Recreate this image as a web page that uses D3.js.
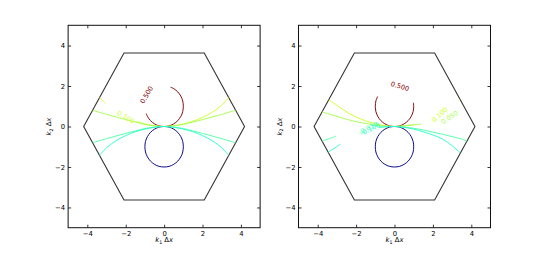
<!DOCTYPE html>
<html>
<head>
<meta charset="utf-8">
<script src="https://cdn.jsdelivr.net/npm/d3@7"></script>
<style>
  body { margin: 0; background: #fff; }
  svg { display: block; }
  text { font-family: "DejaVu Sans", sans-serif; }
</style>
</head>
<body>
<svg id="chart" width="545" height="253"></svg>
<script>
// Contour levels and axis ticks
const levels = [-0.5, -0.1, -0.05, 0.05, 0.1, 0.5];
const xTicks = [-4, -2, 0, 2, 4];
const yTicks = [-4, -2, 0, 2, 4];
const domain = [-5, 5];

// Brillouin-zone hexagon (k1, k2)
const hexagon = [[4.19, 0], [2.09, 3.63], [-2.09, 3.63], [-4.19, 0], [-2.09, -3.63], [2.09, -3.63]];

// Circle at level -0.5 (same in both panels)
const blueCircle = [[0, 0], [0.26, -0.03], [0.5, -0.13], [0.71, -0.29], [0.87, -0.5], [0.97, -0.74], [1, -1],
    [0.97, -1.26], [0.87, -1.5], [0.71, -1.71], [0.5, -1.87], [0.26, -1.97], [0, -2], [-0.26, -1.97],
    [-0.5, -1.87], [-0.71, -1.71], [-0.87, -1.5], [-0.97, -1.26], [-1, -1], [-0.97, -0.74], [-0.87, -0.5],
    [-0.71, -0.29], [-0.5, -0.13], [-0.26, -0.03]];

// Left panel contour pieces
const leftContours = [
    { level: 0.5, points: [[0.34, 1.94], [0.5, 1.87], [0.71, 1.71], [0.87, 1.5], [0.97, 1.26], [1, 1], [0.97, 0.74],
        [0.87, 0.5], [0.71, 0.29], [0.5, 0.13], [0.26, 0.03], [0, 0], [-0.26, 0.03], [-0.5, 0.13], [-0.71, 0.29],
        [-0.87, 0.5], [-0.93, 0.64]] },
    { level: -0.5, closed: true, points: blueCircle },
    { level: 0.1, points: [[-3.36, 1.43], [-3.2, 1.28], [-3.06, 1.15]] },
    { level: 0.1, points: [[-1.5, 0.26], [-1, 0.13], [-0.5, 0.04], [0, 0], [0.5, 0.04], [1, 0.13], [1.5, 0.26],
        [2, 0.45], [2.5, 0.7], [3, 1.05], [3.36, 1.43]] },
    { level: 0.05, points: [[-3.72, 0.8], [-3, 0.6], [-2.5, 0.47], [-2, 0.34], [-1.5, 0.22], [-1, 0.1], [-0.5, 0.03],
        [0, 0], [0.5, 0.03], [1, 0.1], [1.5, 0.22], [2, 0.34], [2.5, 0.47], [3, 0.6], [3.72, 0.8]] },
    { level: -0.05, points: [[-3.72, -0.8], [-3, -0.6], [-2.5, -0.47], [-2, -0.34], [-1.5, -0.22], [-1, -0.1], [-0.5, -0.03],
        [0, 0], [0.5, -0.03], [1, -0.1], [1.5, -0.22], [2, -0.34], [2.5, -0.47], [3, -0.6], [3.72, -0.8]] },
    { level: -0.1, points: [[-3.36, -1.43], [-3, -1.05], [-2.5, -0.7], [-2, -0.45], [-1.5, -0.26], [-1, -0.13], [-0.5, -0.04],
        [0, 0], [0.5, -0.04], [1, -0.13], [1.5, -0.26], [2, -0.45], [2.5, -0.7], [3, -1.05], [3.36, -1.43]] }
];

// Right panel contour pieces
const rightContours = [
    { level: 0.5, points: [[0.98, 1.17], [1, 1], [0.97, 0.74], [0.87, 0.5], [0.71, 0.29], [0.5, 0.13], [0.26, 0.03],
        [0, 0], [-0.26, 0.03], [-0.5, 0.13], [-0.71, 0.29], [-0.87, 0.5], [-0.97, 0.74], [-1, 1], [-0.97, 1.26],
        [-0.88, 1.48]] },
    { level: -0.5, closed: true, points: blueCircle },
    { level: 0.1, points: [[-3.43, 1.31], [-3, 1.05], [-2.43, 0.68], [-1.9, 0.43], [-1.5, 0.28], [-1, 0.14], [-0.5, 0.04],
        [0, 0], [0.5, 0.03], [1, 0.1]] },
    { level: 0.1, points: [[3.4, 1.33], [3.34, 1.29]] },
    { level: 0.05, points: [[-3.78, 0.72], [-3, 0.5], [-2.43, 0.34], [-1.8, 0.2], [-1.22, 0.11], [-0.6, 0.03],
        [0, 0], [0.5, 0.03], [1, 0.08], [1.4, 0.12]] },
    { level: -0.05, points: [[-3.78, -0.72], [-3.4, -0.6], [-3.04, -0.47]] },
    { level: -0.05, points: [[-0.8, -0.03], [-0.4, -0.01], [0, 0], [0.5, -0.03], [1, -0.09], [1.5, -0.17], [2, -0.28],
        [2.5, -0.38], [3, -0.5], [3.5, -0.62], [3.78, -0.72]] },
    { level: -0.1, points: [[-3.45, -1.27], [-3.1, -1.05], [-2.81, -0.87]] },
    { level: -0.1, points: [[-0.8, -0.04], [-0.4, -0.01], [0, 0], [0.5, -0.04], [1, -0.13], [1.5, -0.26], [2, -0.42],
        [2.5, -0.62], [3, -0.95], [3.43, -1.31]] }
];

// Inline contour labels
const leftLabels = [
    { text: "0.500", level: 0.5, k: [-0.9, 1.56], angle: -60 },
    { text: "0.100", level: 0.1, k: [-2.0, 0.45], angle: 31 }
];
const rightLabels = [
    { text: "0.500", level: 0.5, k: [0.28, 1.97], angle: 17 },
    { text: "0.100", level: 0.1, k: [2.36, 0.57], angle: -42 },
    { text: "0.050", level: 0.05, k: [2.88, 0.44], angle: -33 },
    { text: "-0.050", level: -0.05, k: [-1.36, -0.09], angle: -27 },
    { text: "-0.100", level: -0.1, k: [-1.27, -0.14], angle: -27 }
];

// matplotlib "jet" colormap, built from its segment data
const jetR = d3.scaleLinear().domain([0, 0.35, 0.66, 0.89, 1]).range([0, 0, 1, 1, 0.5]).clamp(true);
const jetG = d3.scaleLinear().domain([0, 0.125, 0.375, 0.64, 0.91, 1]).range([0, 0, 1, 1, 0, 0]).clamp(true);
const jetB = d3.scaleLinear().domain([0, 0.11, 0.34, 0.65, 1]).range([0.5, 1, 1, 0, 0]).clamp(true);
const norm = d3.scaleLinear().domain(d3.extent(levels)).range([0, 1]);
const levelColor = v => {
    const t = norm(v);
    return d3.rgb(jetR(t) * 255, jetG(t) * 255, jetB(t) * 255).formatHex();
};

const svg = d3.select('#chart');
const fontSize = 6.8;

// Figure layout (matplotlib subplot params)
const figW = 545, figH = 253;
const axLeft = 0.125 * figW, axRight = 0.9 * figW;
const axW = (axRight - axLeft) / 2.2;
const axTop = 0.1 * figH, axBottom = 0.9 * figH;

function drawPanel(x0, contours, labels) {
    const x = d3.scaleLinear().domain(domain).range([x0, x0 + axW]);
    const y = d3.scaleLinear().domain(domain).range([axBottom, axTop]);
    const g = svg.append('g');

    const line = d3.line().x(d => x(d[0])).y(d => y(d[1]));

    // hexagon
    g.append('path')
        .attr('d', line.curve(d3.curveLinearClosed)(hexagon))
        .attr('fill', 'none')
        .attr('stroke', '#333')
        .attr('stroke-width', 1.1);

    // contour lines
    g.selectAll('path.contour')
        .data(contours)
        .join('path')
        .attr('class', 'contour')
        .attr('d', d => line.curve(d.closed ? d3.curveCatmullRomClosed : d3.curveCatmullRom)(d.points))
        .attr('fill', 'none')
        .attr('stroke', d => levelColor(d.level))
        .attr('stroke-width', 0.95);

    // contour labels
    g.selectAll('text.clabel')
        .data(labels)
        .join('text')
        .attr('class', 'clabel')
        .attr('transform', d => `translate(${x(d.k[0])},${y(d.k[1])}) rotate(${d.angle})`)
        .attr('text-anchor', 'middle')
        .attr('dominant-baseline', 'central')
        .attr('font-size', 6.6)
        .attr('fill', d => levelColor(d.level))
        .text(d => d.text);

    // axes: ticks point inward on all four sides
    const styleAxis = sel => {
        sel.select('.domain').remove();
        sel.selectAll('.tick line').attr('stroke', '#000').attr('stroke-width', 0.8);
        sel.selectAll('.tick text').attr('font-size', fontSize).attr('fill', '#000')
            .attr('font-family', '"DejaVu Sans", sans-serif');
    };
    g.append('g').attr('transform', `translate(0,${axBottom})`)
        .call(d3.axisBottom(x).tickValues(xTicks).tickSize(-3).tickPadding(3)).call(styleAxis);
    g.append('g').attr('transform', `translate(0,${axTop})`)
        .call(d3.axisTop(x).tickValues(xTicks).tickSize(-3).tickFormat('')).call(styleAxis);
    g.append('g').attr('transform', `translate(${x0},0)`)
        .call(d3.axisLeft(y).tickValues(yTicks).tickSize(-3).tickPadding(3)).call(styleAxis);
    g.append('g').attr('transform', `translate(${x0 + axW},0)`)
        .call(d3.axisRight(y).tickValues(yTicks).tickSize(-3).tickFormat('')).call(styleAxis);

    // frame
    g.append('rect')
        .attr('x', x0).attr('y', axTop)
        .attr('width', axW).attr('height', axBottom - axTop)
        .attr('fill', 'none')
        .attr('stroke', '#111')
        .attr('stroke-width', 1);

    // axis labels (k1 Δx, k2 Δx)
    const xl = g.append('text')
        .attr('x', x0 + axW / 2).attr('y', axBottom + 14.5)
        .attr('text-anchor', 'middle')
        .attr('font-size', fontSize);
    xl.append('tspan').attr('font-style', 'italic').text('k');
    xl.append('tspan').attr('font-size', fontSize * 0.7).attr('dy', 1.5).text('1');
    xl.append('tspan').attr('dy', -1.5).text(' Δ');
    xl.append('tspan').attr('font-style', 'italic').text('x');

    const yl = g.append('text')
        .attr('transform', `translate(${x0 - 17},${(axTop + axBottom) / 2}) rotate(-90)`)
        .attr('text-anchor', 'middle')
        .attr('font-size', fontSize);
    yl.append('tspan').attr('font-style', 'italic').text('k');
    yl.append('tspan').attr('font-size', fontSize * 0.7).attr('dy', 1.5).text('2');
    yl.append('tspan').attr('dy', -1.5).text(' Δ');
    yl.append('tspan').attr('font-style', 'italic').text('x');
}

drawPanel(axLeft, leftContours, leftLabels);
drawPanel(axLeft + axW * 1.2, rightContours, rightLabels);
</script>
</body>
</html>
